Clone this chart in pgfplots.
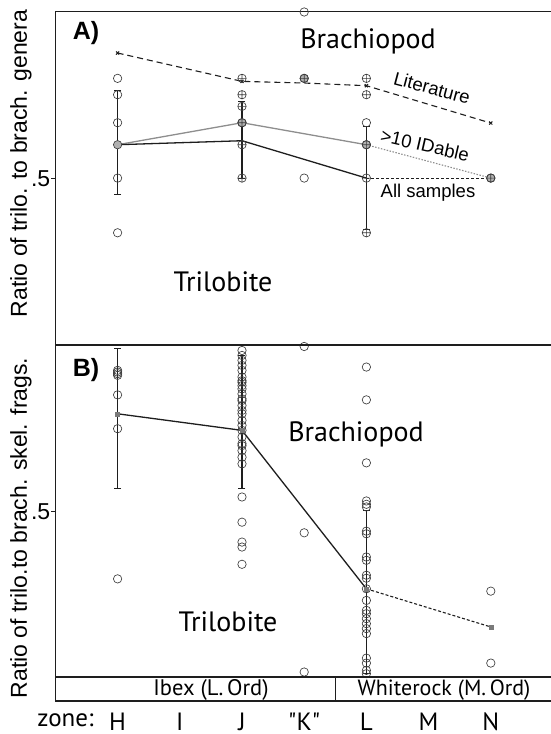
\documentclass[border=0pt]{standalone}
\usepackage{fontspec}
\setmainfont{Liberation Sans}
\newfontfamily\myr{PT Sans}
\usepackage{pgfplots}
\pgfplotsset{compat=1.18}
\definecolor{ink}{HTML}{1E1E1E}
\definecolor{circ}{HTML}{3C3C3C}
\definecolor{lgray}{HTML}{8E8E8E}
\definecolor{mgray}{HTML}{7A7A7A}
\begin{document}
\begin{tikzpicture}[x=1pt,y=1pt]
\useasboundingbox (0,0) rectangle (551,734);
\pgfplotsset{
  panel/.style={
    anchor=south west, scale only axis, width=497.6pt,
    xmin=-1, xmax=7, ymin=0, ymax=1, clip=false,
    ytick={0.5}, yticklabels={.5},
    yticklabel style={font=\fontsize{23}{26}\selectfont, inner sep=1pt},
    ytick style={line width=0.8pt, ink},
    tick align=outside, major tick length=4pt,
    axis line style={line width=1pt, ink},
    every axis y label/.style={rotate=90, anchor=center, font=\fontsize{23}{26}\selectfont},
  },
  ocirc/.style={only marks, mark=o, mark size=4.2pt, circ, mark options={line width=0.65pt}},
  pcirc/.style={only marks, mark=oplus, mark size=4.2pt, circ, mark options={line width=0.65pt}},
  ebar/.style={ink, line width=1.1pt, mark=-, mark size=3.5pt, mark options={line width=1.1pt}},
}
% ---------- Panel A ----------
\begin{axis}[panel, at={(55.4pt,388.5pt)}, height=333.5pt, xtick=\empty,
  ylabel={Ratio of trilo. to brach. genera},
  y label style={at={(rel axis cs:0,0.546)}, yshift=34.4pt}]
\addplot[ebar] coordinates {(0,0.453)(0,0.765)};
\addplot[ebar] coordinates {(2,0.502)(2,0.732)};
\addplot[ebar] coordinates {(4,0.348)(4,0.657)};
% literature
\addplot[ink, line width=1.1pt, dash pattern=on 6pt off 4pt] coordinates {(0,0.877)(2,0.792)(3,0.787)(4,0.779)(6,0.667)};
\addplot[only marks, mark=x, mark size=2.2pt, ink, mark options={line width=1pt}] coordinates {(0,0.877)(2,0.792)(4,0.779)(6,0.667)};
% >10 IDable
\addplot[lgray, line width=1.3pt] coordinates {(0,0.602)(2,0.668)(4,0.602)};
\addplot[lgray, line width=1.1pt, dash pattern=on 1.5pt off 1.5pt] coordinates {(4,0.602)(6,0.502)};
% all samples
\addplot[ink, line width=1.3pt] coordinates {(0,0.602)(2,0.614)(4,0.502)};
\addplot[ink, line width=1.1pt, dash pattern=on 3pt off 2pt] coordinates {(4,0.502)(6,0.502)};
% sample points
\addplot[ocirc] coordinates {(0,0.801)(0,0.752)(0,0.668)(0,0.502)(0,0.338)(3,1.0)(3,0.502)(4,0.668)};
\addplot[only marks, mark=*, mark size=4.2pt, mark options={fill=lgray!70, draw=circ, line width=0.65pt}] coordinates {(0,0.602)(2,0.668)(3,0.801)(4,0.602)(6,0.502)};
\addplot[pcirc] coordinates {(2,0.801)(2,0.752)(2,0.717)(2,0.668)(2,0.602)(2,0.502)(3,0.801)(4,0.801)(4,0.752)(4,0.602)(4,0.502)(4,0.338)(6,0.502)};
\end{axis}
% ---------- Panel B ----------
\begin{axis}[panel, at={(55.4pt,57pt)}, height=331.5pt,
  xtick={0,1,2,3,4,5,6}, xticklabels={H,I,J,{"K"},L,M,N},
  xtick style={draw=none},
  xticklabel style={font=\myr\fontsize{25}{28}\selectfont, anchor=base, yshift=-49pt, inner sep=0pt, text depth=0pt},
  ylabel={Ratio of trilo.to brach. skel. frags.},
  y label style={at={(rel axis cs:0,0.45)}, yshift=34.4pt}]
\addplot[ebar] coordinates {(0,0.568)(0,0.99)};
\addplot[ebar] coordinates {(2,0.568)(2,0.97)};
\addplot[ebar] coordinates {(4,0.010)(4,0.503)};
\addplot[ink, line width=1.3pt] coordinates {(0,0.794)(2,0.744)(4,0.266)};
\addplot[ink, line width=1.1pt, dash pattern=on 3pt off 2pt] coordinates {(4,0.266)(6,0.151)};
\addplot[ocirc] coordinates {
 (0,0.925)(0,0.920)(0,0.915)(0,0.910)(0,0.851)(0,0.749)(0,0.296)
 (2,0.985)(2,0.970)(2,0.955)(2,0.940)(2,0.925)(2,0.905)(2,0.894)(2,0.889)(2,0.879)(2,0.869)
 (2,0.854)(2,0.839)(2,0.834)(2,0.819)(2,0.804)(2,0.794)(2,0.774)(2,0.759)(2,0.744)(2,0.724)
 (2,0.704)(2,0.698)(2,0.683)(2,0.663)(2,0.643)(2,0.543)(2,0.467)(2,0.407)(2,0.392)(2,0.340)
 (3,0.997)(3,0.435)(3,0.015)
 (4,0.935)(4,0.836)(4,0.646)(4,0.531)(4,0.521)(4,0.513)(4,0.440)(4,0.432)(4,0.362)(4,0.352)
 (4,0.307)(4,0.298)(4,0.266)(4,0.231)(4,0.201)(4,0.191)(4,0.176)(4,0.161)(4,0.146)(4,0.131)
 (4,0.057)(4,0.042)(4,0.020)(4,0.010)
 (6,0.259)(6,0.042)};
\addplot[only marks, mark=square*, mark size=2pt, mark options={fill=mgray, draw=mgray}] coordinates {(0,0.794)(2,0.744)(4,0.266)(6,0.151)};
\end{axis}
% ---------- frame lines and band ----------
\draw[ink, line width=2pt] (55.4,388.5) -- (553,388.5);
\draw[ink, line width=2pt] (55.4,57) -- (553,57);
\draw[ink, line width=2pt] (55.4,33) -- (553,33);
\draw[ink, line width=1.2pt] (55.4,33) -- (55.4,57);
\draw[ink, line width=1.2pt] (335.2,33) -- (335.2,57);
\node[font=\myr\fontsize{22.5}{24}\selectfont] at (211,44) {Ibex (L.\,Ord)};
\node[font=\myr\fontsize{22}{24}\selectfont] at (444,44) {Whiterock (M.\,Ord)};
\node[font=\myr\fontsize{25}{28}\selectfont, anchor=base, inner sep=0pt] at (65.5,8) {zone:};
% ---------- panel text ----------
\node[font=\bfseries\fontsize{25}{28}\selectfont] at (86,701) {A)};
\node[font=\myr\fontsize{28}{30}\selectfont] at (368,693) {Brachiopod};
\node[font=\fontsize{18.5}{20}\selectfont, rotate=-15, inner sep=1pt] at (432,646) {Literature};
\node[font=\fontsize{18.5}{20}\selectfont, rotate=-13, inner sep=1pt] at (425,589) {>10 IDable};
\node[font=\fontsize{18.5}{20}\selectfont, inner sep=1pt] at (428,541) {All samples};
\node[font=\myr\fontsize{28}{30}\selectfont] at (223,452) {Trilobite};
\node[font=\bfseries\fontsize{25}{28}\selectfont] at (86,364) {B)};
\node[font=\myr\fontsize{28}{30}\selectfont] at (356,300) {Brachiopod};
\node[font=\myr\fontsize{28}{30}\selectfont] at (228,112) {Trilobite};
\end{tikzpicture}
\end{document}
